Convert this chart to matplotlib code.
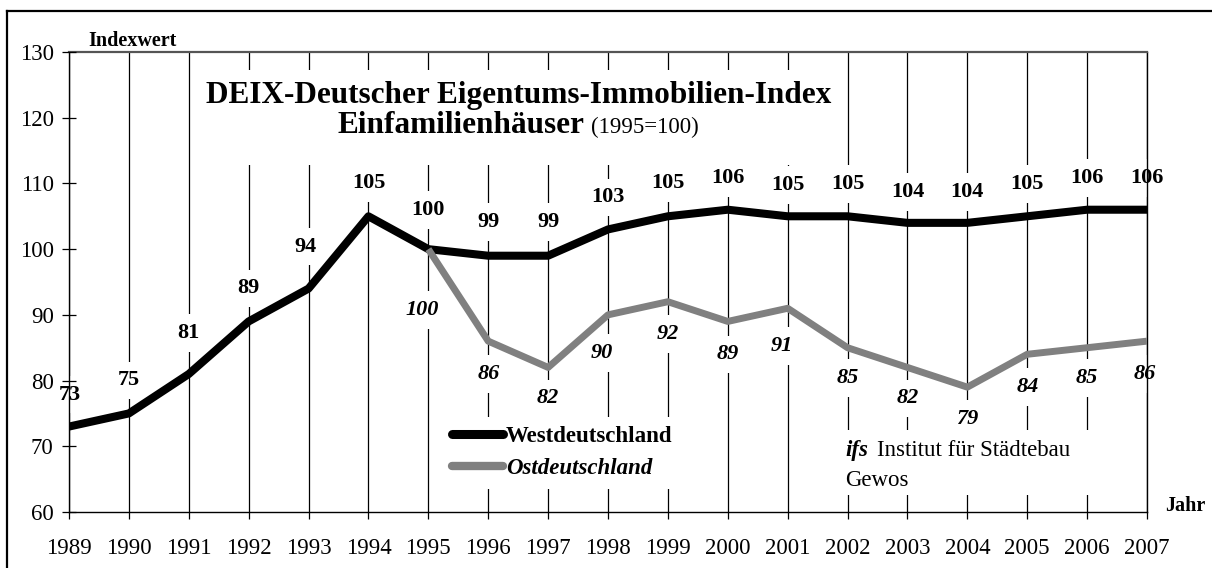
import matplotlib.pyplot as plt
from matplotlib.lines import Line2D
from matplotlib.patches import Rectangle

plt.rcParams['font.family'] = ['Liberation Serif', 'DejaVu Serif']

# data
years = list(range(1989, 2008))
west = [73, 75, 81, 89, 94, 105, 100, 99, 99, 103, 105, 106, 105, 105, 104, 104, 105, 106, 106]
east_years = list(range(1995, 2008))
east = [100, 86, 82, 90, 92, 89, 91, 85, 82, 79, 84, 85, 86]

# label offsets in pixels (dx, dy), dy positive = upwards
west_off = [(1, 32), (0, 33), (0, 41), (0, 33), (-3, 42), (0, 33), (0, 39), (0, 34), (0, 34),
            (0, 32), (0, 33), (0, 32), (0, 31), (0, 32), (0, 31), (0, 31), (0, 32), (0, 32), (0, 32)]
east_off = [(-6, -61), (0, -33), (0, -31), (-6, -38), (0, -32), (0, -33), (-6, -38),
            (0, -30), (0, -31), (0, -32), (0, -33), (0, -30), (-2, -33)]

W, H = 1212, 568


def px(x, y):
    return x / W, 1 - y / H


fig = plt.figure(figsize=(W / 100, H / 100), dpi=100)
ax = fig.add_axes([69 / W, 1 - 512 / H, (1147 - 69) / W, (512 - 52) / H])

ax.set_xlim(1989, 2007)
ax.set_ylim(60, 130)
ax.set_xticks(years)
ax.set_yticks(range(60, 131, 10))
ax.tick_params(axis='y', direction='inout', length=10, width=0.9, labelsize=16.5, pad=6)
ax.tick_params(axis='x', direction='out', length=5, width=0.9, labelsize=16.5, pad=14)
for s in ax.spines.values():
    s.set_linewidth(1.0)
ax.spines['top'].set_color('#555555')
ax.spines['top'].set_linewidth(1.6)

ax.set_axisbelow(True)
ax.grid(axis='x', color='black', linewidth=0.9)
ax.grid(axis='y', visible=False)
ax.yaxis.set_zorder(2.6)

# white boxes that interrupt the year lines (title, source note)
ax.add_patch(Rectangle((0.117, 0.754), 0.598, 0.207, transform=ax.transAxes,
                       facecolor='white', edgecolor='none', zorder=1.5))
ax.add_patch(Rectangle((0.711, 0.037), 0.245, 0.141, transform=ax.transAxes,
                       facecolor='white', edgecolor='none', zorder=1.5))

ax.plot(years, west, color='black', linewidth=5.8, solid_capstyle='butt', zorder=3)
ax.plot(east_years, east, color='#808080', linewidth=5.0, solid_capstyle='butt', zorder=3)

box = dict(boxstyle='square,pad=0.4', facecolor='white', edgecolor='none')
for x, y, (dx, dy) in zip(years, west, west_off):
    ax.annotate(str(y), (x, y), xytext=(dx, dy), textcoords='offset pixels',
                ha='center', va='center', fontsize=16, fontweight='bold',
                bbox=box, zorder=2.5)
for x, y, (dx, dy) in zip(east_years, east, east_off):
    ax.annotate(str(y), (x, y), xytext=(dx, dy), textcoords='offset pixels',
                ha='center', va='center', fontsize=16, fontweight='bold', fontstyle='italic',
                bbox=box, zorder=2.5)

# legend
handles = [Line2D([], [], color='black', linewidth=6.5, solid_capstyle='round'),
           Line2D([], [], color='#808080', linewidth=6.0, solid_capstyle='round')]
leg = ax.legend(handles, ['Westdeutschland', 'Ostdeutschland'], loc='upper left',
                bbox_to_anchor=(0.336, 0.232), frameon=True, fancybox=False,
                facecolor='white', edgecolor='none', framealpha=1, fontsize=16.5,
                handlelength=2.25, handletextpad=0.12, labelspacing=0.5, borderpad=0.4)
leg.set_zorder(5)
leg.get_texts()[0].set_fontweight('bold')
leg.get_texts()[1].set_fontweight('bold')
leg.get_texts()[1].set_fontstyle('italic')

# title
fig.text(*px(519, 103), 'DEIX-Deutscher Eigentums-Immobilien-Index', ha='center', va='baseline',
         fontsize=22.5, fontweight='bold')
fig.text(*px(584, 133), 'Einfamilienhäuser', ha='right', va='baseline',
         fontsize=22.5, fontweight='bold')
fig.text(*px(591, 133), '(1995=100)', ha='left', va='baseline', fontsize=16.5)

# source
fig.text(*px(845, 456), 'ifs', ha='left', va='baseline', fontsize=16.5,
         fontweight='bold', fontstyle='italic')
fig.text(*px(877, 456), 'Institut für Städtebau', ha='left', va='baseline', fontsize=16.5)
fig.text(*px(845, 486), 'Gewos', ha='left', va='baseline', fontsize=16.5)

# axis captions
fig.text(*px(88, 46), 'Indexwert', ha='left', va='baseline', fontsize=14.5, fontweight='bold')
fig.text(*px(1165, 511), 'Jahr', ha='left', va='baseline', fontsize=14.5, fontweight='bold')

# outer frame
fig.add_artist(Line2D([7 / W, 1], [1 - 11 / H, 1 - 11 / H], transform=fig.transFigure,
                      color='black', linewidth=1.6))
fig.add_artist(Line2D([7 / W, 7 / W], [0, 1 - 11 / H], transform=fig.transFigure,
                      color='black', linewidth=1.6))

fig.savefig('out.png', dpi=100)
